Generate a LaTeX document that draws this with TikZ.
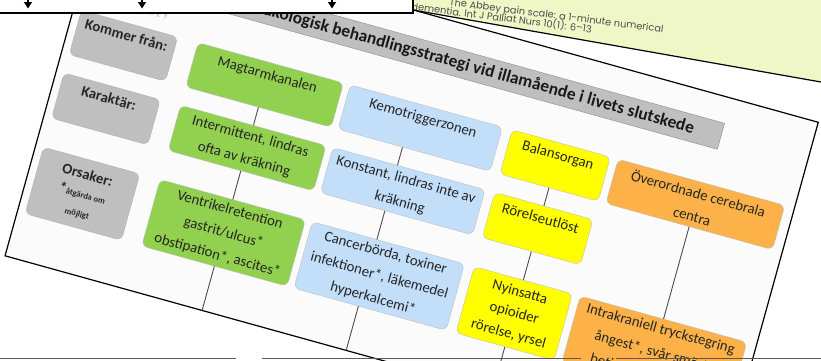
\documentclass[tikz,border=0pt]{standalone}
\usepackage{fontspec}
\setmainfont{Carlito}
\newfontfamily\notefont{Poppins}
\usetikzlibrary{arrows.meta,calc,positioning}
\definecolor{maggron}{RGB}{146,208,80}
\definecolor{kemobla}{RGB}{194,222,248}
\definecolor{balansgul}{RGB}{255,255,0}
\definecolor{hjarnorange}{RGB}{252,178,72}
\definecolor{rubrikgra}{RGB}{191,191,191}
\definecolor{lappgul}{RGB}{240,247,198}
\definecolor{bildbg}{RGB}{251,251,251}
\tikzset{
  ruta/.style={
      rectangle,
      rounded corners=6pt,
      inner sep=1mm,
      align=center,
      draw=black!25,
      text=black!85,
      font=\fontsize{14.8}{23.5}\selectfont
  },
  magruta/.style={ruta, fill=maggron, minimum width=151pt},
  kemoruta/.style={ruta, fill=kemobla, minimum width=158pt},
  balansruta/.style={ruta, fill=balansgul, minimum width=102pt},
  hjarnruta/.style={ruta, fill=hjarnorange, minimum width=173pt},
  rubrikruta/.style={ruta, fill=rubrikgra, draw=black!30, minimum width=100pt,
      font=\fontsize{14.8}{19}\selectfont\bfseries},
  toppad/.style={text height=10pt, text depth=22pt},
  stam/.style={draw=black!70, line width=0.9pt},
  pil/.style={line width=1.2pt, -{Triangle[width=8pt,length=6.5pt]}},
  lapptext/.style={font=\notefont\fontsize{9.8}{11}\selectfont, text=black!70,
      inner sep=0pt, anchor=base west, rotate=-7.2}
}

\begin{document}
\begin{tikzpicture}[x=1pt,y=1pt]
  \useasboundingbox (0,0) rectangle (821,360);
  \clip (0,0) rectangle (821,360);
  \fill[white] (0,0) rectangle (821,360);

  % note paper in the corner
  \fill[lappgul] (405,351.4) -- (830,276.4) -- (830,380) -- (405,380) -- cycle;
  \draw[line width=1.2pt] (405,351.4) -- (830,276.4);
  \node[lapptext] (lapp2) at (449,354.5) {The Abbey pain scale: a 1-minute numerical};
  \node[lapptext] (lapp3) at (411,350) {dementia. Int J Palliat Nurs 10(1): 6–13};

  % the slide
  \begin{scope}[shift={(97.5,437.6)},rotate=-15.5,transform shape]
    \draw[fill=bildbg, line width=1.2pt] (0,0) rectangle (748,-346);
    \node[text=black!40, font=\fontsize{6.5}{7}\selectfont, anchor=east] (logo) at (96,-73)
      {R\hspace{4pt}K\hspace{4pt}E\hspace{4pt}T};
    \node[rectangle, fill=rubrikgra, draw=black!45, minimum width=539pt, minimum height=27pt,
      font=\fontsize{17.4}{20}\selectfont\bfseries, text=black!90] (titel) at (388.5,-39.5)
      {Farmakologisk behandlingsstrategi vid illamående i livets slutskede};

    \node[rubrikruta, toppad, minimum height=46pt] (kommer) at (58,-112) {Kommer från:};
    \node[rubrikruta, toppad, minimum height=47pt] (karaktar) at (58,-177.5) {Karaktär:};
    \node[rubrikruta, minimum height=69pt] (orsaker) at (58,-265.5)
      {Orsaker:\\*{\fontsize{8.5}{19}\selectfont åtgärda om}\\{\fontsize{8.5}{19}\selectfont möjligt}};

    \node[magruta, toppad, minimum height=46pt] (magtarm) at (204.5,-112) {Magtarmkanalen};
    \node[magruta, minimum height=47pt] (intermittent) at (204.5,-177.5) {Intermittent, lindras\\ofta av kräkning};
    \node[magruta, minimum height=69pt] (ventrikel) at (204.5,-265.5) {Ventrikelretention\\gastrit/ulcus*\\obstipation*, ascites*};

    \node[kemoruta, toppad, minimum height=46pt] (kemo) at (366,-112) {Kemotriggerzonen};
    \node[kemoruta, minimum height=47pt] (konstant) at (366,-177.5) {Konstant, lindras inte av\\kräkning};
    \node[kemoruta, minimum height=69pt] (cancer) at (366,-265.5) {Cancerbörda, toxiner\\infektioner*, läkemedel\\hyperkalcemi*};

    \node[balansruta, toppad, minimum height=46pt] (balans) at (506,-112) {Balansorgan};
    \node[balansruta, toppad, minimum height=47pt] (rorelse) at (506,-177.5) {Rörelseutlöst};
    \node[balansruta, minimum height=69pt, font=\fontsize{14.8}{21.5}\selectfont] (nyinsatta) at (506,-265.5) {Nyinsatta\\opioider\\rörelse, yrsel};

    \node[hjarnruta, minimum height=46pt] (overordnad) at (651.5,-112) {Överordnade cerebrala\\centra};
    \node[hjarnruta, minimum height=69pt] (intrakraniell) at (651.5,-265.5) {Intrakraniell tryckstegring\\ångest*, svår smärta\\betingat illamående};

    \coordinate (gfot) at (204.5,-346);
    \coordinate (bfot) at (354,-346);
    \coordinate (yfot) at (506,-346);
    \draw[stam] (magtarm) -- (intermittent);
    \draw[stam] (intermittent) -- (ventrikel);
    \draw[stam] (ventrikel) -- (gfot);
    \draw[stam] ($(kemo.south)!12pt!(kemo.south west)$) -- ($(konstant.north)!12pt!(konstant.north west)$);
    \draw[stam] ($(konstant.south)!12pt!(konstant.south west)$) -- ($(cancer.north)!12pt!(cancer.north west)$);
    \draw[stam] ($(cancer.south)!12pt!(cancer.south west)$) -- (bfot);
    \draw[stam] (balans) -- (rorelse);
    \draw[stam] (rorelse) -- (nyinsatta);
    \draw[stam] (nyinsatta) -- (yfot);
    \draw[stam] (overordnad) -- (intrakraniell);
  \end{scope}

  % edges of the sheets below
  \draw[black!65, line width=1.5pt] (0,1.5) -- (236,1.5);
  \draw[black!65, line width=1.5pt] (262,1.5) -- (581,1.5);
  \draw[black!65, line width=1.5pt] (616,1.5) -- (821,1.5);

  % flow chart box on top
  \draw[fill=white, line width=1.3pt] (-5,347) rectangle (413,366);
  \foreach \x/\n in {28/a,142/b,332/c} {
    \coordinate (topp\n) at (\x,362);
    \coordinate (spets\n) at (\x,351.5);
    \draw[pil] (topp\n) -- (spets\n);
  }
\end{tikzpicture}
\end{document}
